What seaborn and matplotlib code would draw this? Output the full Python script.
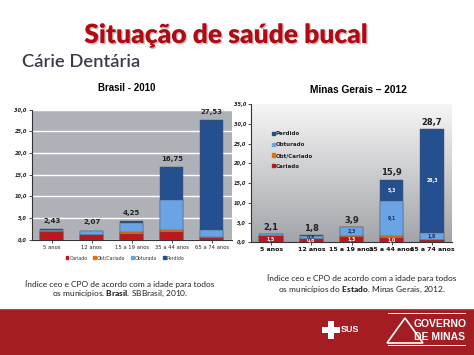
import numpy as np
import pandas as pd
import matplotlib
matplotlib.use("Agg")
import matplotlib.pyplot as plt
import matplotlib.patheffects as pe
from matplotlib.patches import Polygon, Rectangle
from matplotlib.colors import LinearSegmentedColormap
import seaborn as sns

plt.rcParams["mathtext.fontset"] = "custom"
plt.rcParams["mathtext.bf"] = "Lato:weight=black"
plt.rcParams["mathtext.rm"] = "Lato"

# ---------------- data ----------------
categories = ["5 anos", "12 anos", "15 a 19 anos", "35 a 44 anos", "65 a 74 anos"]
components = ["Cariado", "Obt/Cariado", "Obturado", "Perdido"]

br_cariado = [1.87, 1.00, 1.40, 1.70, 0.40]
br_obtcar = [0.10, 0.20, 0.30, 0.50, 0.20]
br_obturado = [0.36, 0.75, 2.10, 7.00, 1.60]
br_perdido = [0.10, 0.12, 0.45, 7.55, 25.33]
br_totals = ["2,43", "2,07", "4,25", "16,75", "27,53"]

mg_cariado = [1.5, 0.8, 1.3, 1.0, 0.5]
mg_obtcar = [0.1, 0.1, 0.2, 0.5, 0.1]
mg_obturado = [0.4, 0.8, 2.3, 9.1, 1.8]
mg_perdido = [0.1, 0.1, 0.1, 5.3, 26.3]
mg_totals = ["2,1", "1,8", "3,9", "15,9", "28,7"]
mg_seg_labels = {
    "Cariado": ["1,5", "0,8", "1,3", "1,0", ""],
    "Obturado": ["", "0,8", "2,3", "9,1", "1,8"],
    "Perdido": ["", "", "", "5,3", "26,3"],
}

colors = {"Cariado": "#c0161b", "Obt/Cariado": "#e4700f",
          "Obturado": "#6aa4e4", "Perdido": "#24508f"}

W, H = 474, 355
fig = plt.figure(figsize=(W / 100, H / 100), dpi=100)
fig.patch.set_facecolor("white")


def fx(x):
    return x / W


def fy(y):
    return 1 - y / H


def stacked(ax, parts):
    df = pd.DataFrame({"cat": categories})
    cum = np.zeros(len(categories))
    cums = []
    for name, vals in parts:
        cum = cum + np.array(vals)
        cums.append((name, cum.copy()))
    for name, c in reversed(cums):
        df["v"] = c
        sns.barplot(data=df, x="cat", y="v", order=categories, color=colors[name],
                    width=0.58, ax=ax, edgecolor="#505050", linewidth=0.3,
                    saturation=1, zorder=3, errorbar=None)
    return cums


# ---------------- left chart ----------------
axL = fig.add_axes([fx(31.7), fy(239.7), fx(200), 130 / H])
axL.set_facecolor("#aeb1b7")
partsL = [("Cariado", br_cariado), ("Obt/Cariado", br_obtcar),
          ("Obturado", br_obturado), ("Perdido", br_perdido)]
cumsL = stacked(axL, partsL)
axL.set_ylim(0, 30)
axL.set_xlim(-0.5, 4.5)
axL.set_yticks(np.arange(0, 30.1, 5))
axL.set_yticklabels([f"{v:.1f}".replace(".", ",") for v in np.arange(0, 30.1, 5)],
                    fontsize=3.6, fontstyle="italic", fontweight="bold", color="#222222")
axL.set_xticks(range(5))
axL.set_xticklabels(categories, fontsize=3.8, color="#222222")
axL.grid(axis="y", color="white", linewidth=1.0, zorder=1)
axL.set_axisbelow(True)
axL.set_xlabel("")
axL.set_ylabel("")
for s in ["top", "right"]:
    axL.spines[s].set_visible(False)
for s in ["left", "bottom"]:
    axL.spines[s].set_color("#333333")
    axL.spines[s].set_linewidth(0.8)
axL.tick_params(axis="both", length=2, width=0.6, pad=1.5, color="#333333")
totL = cumsL[-1][1]
for i, t in enumerate(br_totals):
    axL.annotate(t, (i, totL[i]), xytext=(0, 6), textcoords="offset points",
                 ha="center", va="center", fontsize=5, fontweight="bold", color="#222222")

# left legend at bottom
handlesL = [Rectangle((0, 0), 1, 1, color=colors[c]) for c in components]
fig.legend(handlesL, components, loc="center", bbox_to_anchor=(fx(125), fy(258)),
           ncol=4, frameon=False, fontsize=3.4, handlelength=0.6, handleheight=0.6,
           handletextpad=0.2, columnspacing=1.2, labelcolor="#333333")

# ---------------- right chart ----------------
axR = fig.add_axes([fx(251), fy(242.3), fx(201), 138 / H])
grad = np.linspace(0, 1, 256).reshape(-1, 1)
cmap = LinearSegmentedColormap.from_list("g", ["#f6f6f6", "#a2a4a9"])
axR.imshow(grad, extent=(-0.5, 4.5, 0, 35), origin="upper", aspect="auto",
           cmap=cmap, zorder=0)
partsR = [("Cariado", mg_cariado), ("Obt/Cariado", mg_obtcar),
          ("Obturado", mg_obturado), ("Perdido", mg_perdido)]
cumsR = stacked(axR, partsR)
axR.set_ylim(0, 35)
axR.set_xlim(-0.5, 4.5)
axR.set_yticks(np.arange(0, 35.1, 5))
axR.set_yticklabels([f"{v:.1f}".replace(".", ",") for v in np.arange(0, 35.1, 5)],
                    fontsize=3.6, fontstyle="italic", fontweight="bold", color="#222222")
axR.set_xticks(range(5))
axR.set_xticklabels(categories, fontsize=4.5, fontweight="bold", color="#111111")
axR.set_xlabel("")
axR.set_ylabel("")
for s in ["top", "right"]:
    axR.spines[s].set_visible(False)
for s in ["left", "bottom"]:
    axR.spines[s].set_color("#333333")
    axR.spines[s].set_linewidth(0.8)
axR.tick_params(axis="both", length=2, width=0.6, pad=1.5, color="#333333")
totR = cumsR[-1][1]
for i, t in enumerate(mg_totals):
    axR.annotate(t, (i, totR[i]), xytext=(0, 4.8), textcoords="offset points",
                 ha="center", va="center", fontsize=6, fontweight="bold", color="#222222")
# segment labels
seg_bottoms = {"Cariado": np.zeros(5),
               "Obturado": np.array(mg_cariado) + np.array(mg_obtcar),
               "Perdido": np.array(mg_cariado) + np.array(mg_obtcar) + np.array(mg_obturado)}
seg_heights = {"Cariado": mg_cariado, "Obturado": mg_obturado, "Perdido": mg_perdido}
seg_text_col = {"Cariado": "white", "Obturado": "#1a2e55", "Perdido": "white"}
for k, labs in mg_seg_labels.items():
    for i, lab in enumerate(labs):
        if lab:
            yc = seg_bottoms[k][i] + seg_heights[k][i] / 2
            axR.text(i, yc, lab, ha="center", va="center", fontsize=3.3,
                     fontweight="bold", color=seg_text_col[k], zorder=5)

handlesR = [Rectangle((0, 0), 1, 1, color=colors[c]) for c in reversed(components)]
axR.legend(handlesR, list(reversed(components)), loc="upper left",
           bbox_to_anchor=(0.08, 0.84), frameon=False, handlelength=0.5,
           handleheight=0.5, handletextpad=0.2, labelspacing=1.05,
           prop={"size": 4, "weight": "bold"}, labelcolor="#222222")

# ---------------- texts ----------------
fig.text(fx(226), fy(35), "Situação de saúde bucal", ha="center", va="center",
         fontsize=19, fontweight="heavy", color="#b00b12", family="Lato",
         path_effects=[pe.withSimplePatchShadow(offset=(1, -1), shadow_rgbFace="#555555", alpha=0.35)])
fig.text(fx(22), fy(62), "Cárie Dentária", ha="left", va="center",
         fontsize=13.2, color="#3b3b4b", family="Lato", fontweight="semibold")
fig.text(fx(127), fy(88), "Brasil - 2010", ha="center", va="center",
         fontsize=7, fontweight="bold", color="black", family="Liberation Sans")
fig.text(fx(358), fy(90), "Minas Gerais – 2012", ha="center", va="center",
         fontsize=7.3, fontweight="bold", color="black", family="Liberation Sans")

cap_kw = dict(ha="center", va="center", fontsize=6.0, color="#222222", family="Lato")
fig.text(fx(120), fy(283.5), "Índice ceo e CPO de acordo com a idade para todos", **cap_kw)
fig.text(fx(120), fy(294), r"os municípios. $\bf{Brasil}$. SBBrasil, 2010.", **cap_kw)
fig.text(fx(362), fy(278), "Índice ceo e CPO de acordo com a idade para todos", **cap_kw)
fig.text(fx(362), fy(289.5), r"os municípios do $\bf{Estado}$. Minas Gerais, 2012.", **cap_kw)

# ---------------- footer ----------------
fig.patches.append(Rectangle((0, 0), 1, fy(308.5), transform=fig.transFigure,
                             facecolor="#a31d22", edgecolor="none", zorder=0))
fig.patches.append(Rectangle((0, fy(309.5)), 1, 1 / H, transform=fig.transFigure,
                             facecolor="#c8464a", edgecolor="none", zorder=1))
# SUS cross
for (x0, y0, w, h) in [(322, 327, 18, 6), (328, 321, 6, 18)]:
    fig.patches.append(Rectangle((fx(x0), fy(y0 + h)), w / W, h / H, transform=fig.transFigure,
                                 facecolor="white", edgecolor="none", zorder=2))
fig.text(fx(341), fy(330), "SUS", ha="left", va="center", fontsize=6.5,
         fontweight="bold", color="white", family="Liberation Sans")
# Governo de Minas
fig.patches.append(Polygon([(fx(387), fy(343)), (fx(405), fy(318)), (fx(423), fy(343))],
                           closed=True, transform=fig.transFigure, facecolor="none",
                           edgecolor="white", linewidth=1.2, zorder=2))
for yy in (314, 346):
    fig.patches.append(Rectangle((fx(388), fy(yy)), 78 / W, 1 / H, transform=fig.transFigure,
                                 facecolor="white", edgecolor="none", zorder=2))
fig.text(fx(440), fy(324), "GOVERNO", ha="center", va="center", fontsize=7.5,
         fontweight="bold", color="white", family="Liberation Sans")
fig.text(fx(440), fy(337), "DE MINAS", ha="center", va="center", fontsize=7.5,
         fontweight="bold", color="white", family="Liberation Sans")

fig.savefig("out.png", dpi=100, facecolor="white")
